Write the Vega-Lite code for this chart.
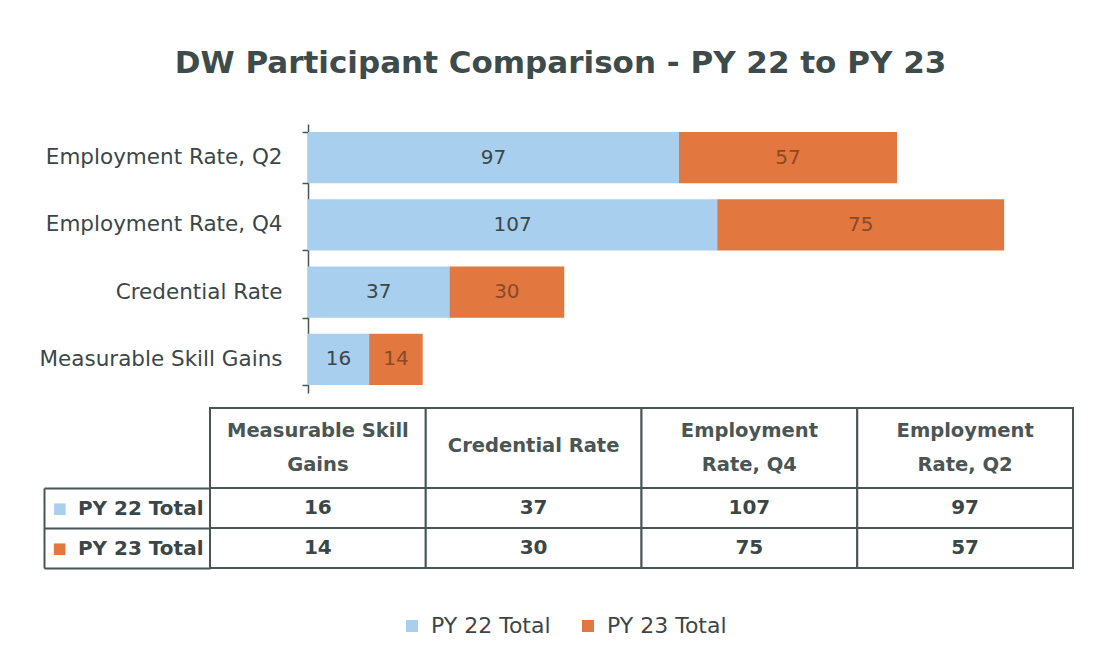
{
  "$schema": "https://vega.github.io/schema/vega-lite/v6.json",
  "background": "white",
  "padding": {"left": 39, "top": 48, "right": 5, "bottom": 5},
  "title": {"text": "DW Participant Comparison - PY 22 to PY 23", "font": "DejaVu Sans", "fontSize": 31, "fontWeight": "bold", "color": "#3d4b4b", "anchor": "middle", "frame": "bounds", "offset": 33, "dx": 4},
  "datasets": {
    "rows": [
      {"metric": "Measurable Skill Gains", "series": "PY 22 Total", "value": 16},
      {"metric": "Measurable Skill Gains", "series": "PY 23 Total", "value": 14},
      {"metric": "Credential Rate", "series": "PY 22 Total", "value": 37},
      {"metric": "Credential Rate", "series": "PY 23 Total", "value": 30},
      {"metric": "Employment Rate, Q4", "series": "PY 22 Total", "value": 107},
      {"metric": "Employment Rate, Q4", "series": "PY 23 Total", "value": 75},
      {"metric": "Employment Rate, Q2", "series": "PY 22 Total", "value": 97},
      {"metric": "Employment Rate, Q2", "series": "PY 23 Total", "value": 57}
    ],
    "headers": [
      {"metric": "Measurable Skill Gains", "label": "Measurable Skill\nGains"},
      {"metric": "Credential Rate", "label": "Credential Rate"},
      {"metric": "Employment Rate, Q4", "label": "Employment\nRate, Q4"},
      {"metric": "Employment Rate, Q2", "label": "Employment\nRate, Q2"}
    ]
  },
  "spacing": 14,
  "vconcat": [
    {
      "width": 863,
      "height": 269,
      "data": {"name": "rows"},
      "encoding": {
        "y": {"field": "metric", "type": "nominal", "sort": ["Employment Rate, Q2", "Employment Rate, Q4", "Credential Rate", "Measurable Skill Gains"],
          "scale": {"paddingInner": 0.24, "paddingOuter": 0.12},
          "axis": {"title": null, "offset": -98, "labelFont": "DejaVu Sans", "labelFontSize": 21.5, "labelLimit": 500, "labelColor": "#3b4747", "labelPadding": 20, "domainColor": "#4a5656", "domainWidth": 1.5, "tickColor": "#4a5656", "tickWidth": 1.5, "tickSize": 6, "tickBand": "extent"}},
        "x": {"field": "value", "type": "quantitative", "stack": "zero", "scale": {"domain": [-25.6, 200], "nice": false, "zero": false}, "axis": null},
        "order": {"field": "series", "type": "ordinal", "sort": "ascending"}
      },
      "layer": [
        {
          "mark": {"type": "bar"},
          "encoding": {
            "color": {"field": "series", "type": "nominal",
              "scale": {"domain": ["PY 22 Total", "PY 23 Total"], "range": ["#a8cfee", "#e2773f"]},
              "legend": {"orient": "none", "legendX": 191, "legendY": 491, "direction": "horizontal", "title": null, "symbolType": "square", "symbolSize": 144, "symbolStrokeWidth": 0, "labelFont": "DejaVu Sans", "labelFontSize": 22, "labelColor": "#3b4747", "labelOffset": 8, "columnPadding": 26}}
          }
        },
        {
          "mark": {"type": "text", "font": "DejaVu Sans", "fontSize": 20},
          "encoding": {
            "x": {"field": "value", "type": "quantitative", "stack": "zero", "bandPosition": 0.5},
            "detail": {"field": "series", "type": "nominal"},
            "text": {"field": "value", "type": "quantitative"},
            "color": {"condition": {"test": "datum.series === 'PY 23 Total'", "value": "#8a4a26"}, "value": "#3b4747"}
          }
        }
      ]
    },
    {
      "spacing": 0,
      "bounds": "flush",
      "vconcat": [
        {
          "width": 863,
          "height": 80,
          "data": {"name": "headers"},
          "encoding": {
            "x": {"field": "metric", "type": "nominal", "sort": ["Measurable Skill Gains", "Credential Rate", "Employment Rate, Q4", "Employment Rate, Q2"], "scale": {"paddingInner": 0, "paddingOuter": 0}, "axis": null}
          },
          "layer": [
            {"mark": {"type": "rect", "fill": "white", "stroke": "#4a5656", "strokeWidth": 2}},
            {"transform": [{"filter": "indexof(datum.label, '\\n') >= 0"}],
             "mark": {"type": "text", "font": "DejaVu Sans", "fontSize": 19.5, "fontWeight": "bold", "color": "#4a5555", "lineBreak": "\n", "lineHeight": 34, "dy": -17},
             "encoding": {"text": {"field": "label", "type": "nominal"}}},
            {"transform": [{"filter": "indexof(datum.label, '\\n') < 0"}],
             "mark": {"type": "text", "font": "DejaVu Sans", "fontSize": 19.5, "fontWeight": "bold", "color": "#4a5555", "dy": -2},
             "encoding": {"text": {"field": "label", "type": "nominal"}}}
          ]
        },
        {
          "width": 863,
          "height": 80,
          "data": {"name": "rows"},
          "encoding": {
            "x": {"field": "metric", "type": "nominal", "sort": ["Measurable Skill Gains", "Credential Rate", "Employment Rate, Q4", "Employment Rate, Q2"], "scale": {"paddingInner": 0, "paddingOuter": 0}, "axis": null}
          },
          "layer": [
            {
              "mark": {"type": "rect", "fill": "white", "stroke": "#4a5656", "strokeWidth": 2},
              "encoding": {
                "y": {"field": "series", "type": "nominal", "sort": ["PY 22 Total", "PY 23 Total"], "scale": {"paddingInner": 0, "paddingOuter": 0},
                  "axis": {"title": null, "orient": "left", "domain": false, "labelFont": "DejaVu Sans", "labelFontSize": 20, "labelFontWeight": "bold", "labelColor": "#3b4747", "labelAlign": "right", "labelPadding": -159, "labelLimit": 300, "tickBand": "extent", "tickSize": 166, "tickColor": "#4a5656", "tickWidth": 2}}
              }
            },
            {
              "mark": {"type": "text", "font": "DejaVu Sans", "fontSize": 20, "fontWeight": "bold", "color": "#3b4747"},
              "encoding": {
                "y": {"field": "series", "type": "nominal", "sort": ["PY 22 Total", "PY 23 Total"], "axis": null},
                "text": {"field": "value", "type": "quantitative"}
              }
            },
            {
              "mark": {"type": "rect", "opacity": 0},
              "encoding": {
                "y": {"field": "series", "type": "nominal", "sort": ["PY 22 Total", "PY 23 Total"],
                  "axis": {"title": null, "orient": "left", "offset": 166, "domain": true, "domainColor": "#4a5656", "domainWidth": 2, "ticks": false, "labelExpr": "'■'", "labelFont": "DejaVu Sans", "labelAlign": "left", "labelPadding": -8, "labelFontSize": 15, "labelColor": {"condition": {"test": "datum.value === 'PY 22 Total'", "value": "#a8cfee"}, "value": "#e2773f"}}}
              }
            }
          ],
          "resolve": {"axis": {"y": "independent"}}
        }
      ]
    }
  ],
  "config": {"view": {"stroke": null}, "font": "DejaVu Sans"}
}
